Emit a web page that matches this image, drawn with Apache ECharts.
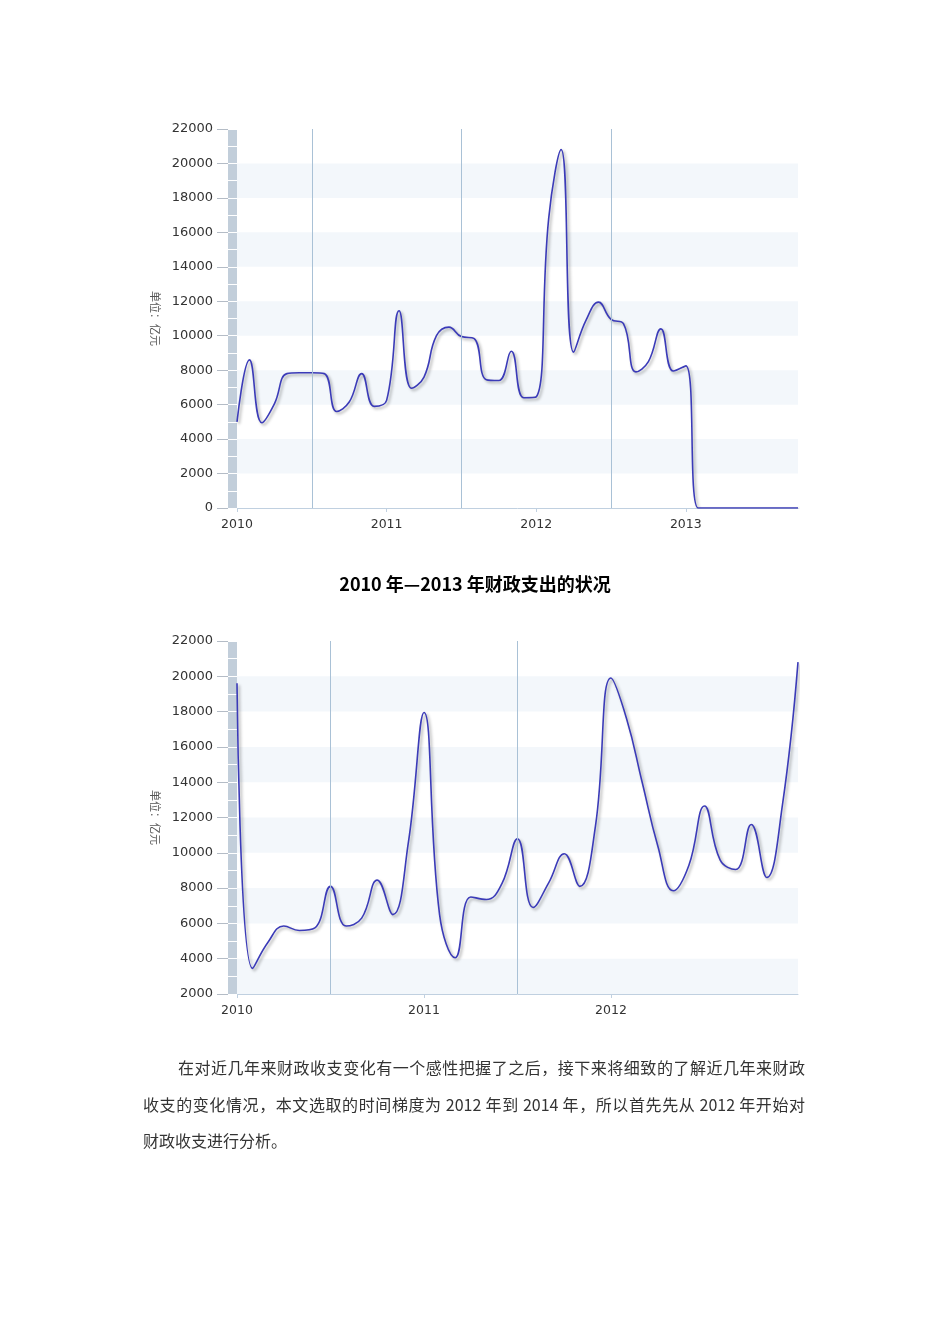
<!DOCTYPE html>
<html>
<head>
<meta charset="utf-8">
<script src="https://cdn.jsdelivr.net/npm/echarts@6/dist/echarts.min.js"></script>
<style>
html,body{margin:0;padding:0;background:#fff;}
#chart{position:absolute;left:0;top:0;width:950px;height:1344px;}
.para{position:absolute;left:143px;width:662px;top:1049px;font-family:'Noto Sans CJK SC',sans-serif;font-size:16px;color:#333;}
.ln{height:36.5px;line-height:36.5px;text-align:justify;text-align-last:justify;}
.ln.first{padding-left:35px;}
.ln.last{text-align-last:left;}
</style>
</head>
<body>
<div id="chart"></div>
<div class="para">
<div class="ln first">在对近几年来财政收支变化有一个感性把握了之后，接下来将细致的了解近几年来财政</div>
<div class="ln">收支的变化情况，本文选取的时间梯度为 2012 年到 2014 年，所以首先先从 2012 年开始对</div>
<div class="ln last">财政收支进行分析。</div>
</div>
<script>
// ---- chart 1 data (2010-01 .. 2013-10) ----
const months1 = ['2010-01','2010-02','2010-03','2010-04','2010-05','2010-06','2010-07','2010-08','2010-09','2010-10','2010-11','2010-12',
  '2011-01','2011-02','2011-03','2011-04','2011-05','2011-06','2011-07','2011-08','2011-09','2011-10','2011-11','2011-12',
  '2012-01','2012-02','2012-03','2012-04','2012-05','2012-06','2012-07','2012-08','2012-09','2012-10','2012-11','2012-12',
  '2013-01','2013-02','2013-03','2013-04','2013-05','2013-06','2013-07','2013-08','2013-09','2013-10'];
const values1 = [5000,8600,4950,6050,7800,7850,7850,7800,5600,6150,7800,5900,
  6250,11450,6950,7600,10000,10500,9950,9850,7450,7400,9100,6400,
  6450,16800,20800,9050,10900,11950,10950,10700,7900,8500,10400,7950,
  8250,0,0,0,0,0,0,0,0,0];
const vLines1 = ['2010-07','2011-07','2012-07'];

// ---- chart 2 data (2010-01 .. 2013-01) ----
const months2 = ['2010-01','2010-02','2010-03','2010-04','2010-05','2010-06','2010-07','2010-08','2010-09','2010-10','2010-11','2010-12',
  '2011-01','2011-02','2011-03','2011-04','2011-05','2011-06','2011-07','2011-08','2011-09','2011-10','2011-11','2011-12',
  '2012-01','2012-02','2012-03','2012-04','2012-05','2012-06','2012-07','2012-08','2012-09','2012-10','2012-11','2012-12',
  '2013-01'];
const values2 = [19600,3450,4950,5850,5600,5750,8100,5850,6300,8450,6500,10600,
  17950,6500,4050,7500,7350,8250,10800,6900,8300,9950,8100,11500,
  19900,17600,14000,10400,7850,9300,12650,9600,9050,11600,8600,12700,
  20800];
const vLines2 = ['2010-07','2011-07'];

const yRange1 = {min:0, max:22000, interval:2000};
const yRange2 = {min:2000, max:22000, interval:2000};
const yName = '单位：亿元';
const titleText = '2010 年—2013 年财政支出的状况';

const chart = echarts.init(document.getElementById('chart'), null, {renderer:'canvas'});
const LABEL_FONT = 'DejaVu Sans';

function yAxes(gridIndex, range, bandColors){
  return [
    { // main axis: labels, ticks, bands
      type:'value', gridIndex, min:range.min, max:range.max, interval:range.interval,
      position:'left', offset:9, z:0,
      name:yName, nameLocation:'middle', nameRotate:-90, nameGap:58,
      nameTextStyle:{color:'#555', fontSize:11, fontFamily:'Noto Sans CJK SC'},
      axisLine:{show:false},
      axisTick:{show:true, length:11, lineStyle:{color:'#b4bcc6', width:1}},
      axisLabel:{margin:15, color:'#333', fontSize:13, fontFamily:LABEL_FONT, formatter:(v)=>String(v)},
      splitLine:{show:false},
      splitArea:{show:true, areaStyle:{color:bandColors}}
    },
    { // white separators across the bar
      type:'value', gridIndex, min:range.min, max:range.max, interval:1000,
      position:'left', offset:9, z:2,
      axisLine:{show:false},
      axisTick:{show:true, inside:true, length:9, lineStyle:{color:'#ffffff', width:1}},
      axisLabel:{show:false}, splitLine:{show:false}, splitArea:{show:false}
    },
    { // the grey-blue bar
      type:'value', gridIndex, min:range.min, max:range.max, interval:range.interval,
      position:'left', offset:4.5, z:1,
      axisLine:{show:true, lineStyle:{color:'#c2ceda', width:9, cap:'butt'}},
      axisTick:{show:false}, axisLabel:{show:false}, splitLine:{show:false}, splitArea:{show:false}
    }
  ];
}

function xAxis(gridIndex, cats, lastIdxExcluded){
  const iv = (i) => i % 12 === 0 && i !== lastIdxExcluded;
  return {
    type:'category', gridIndex, data:cats, boundaryGap:false,
    axisLine:{show:true, lineStyle:{color:'#c0d0e0', width:1}},
    axisTick:{show:true, interval:iv, length:4, lineStyle:{color:'#c0d0e0'}},
    axisLabel:{interval:iv, margin:10, color:'#333', fontSize:12.5, fontFamily:LABEL_FONT,
      formatter:(v)=>v.slice(0,4)},
    splitLine:{show:false}
  };
}

function lineSeries(xi, yi, data, vlines){
  return {
    type:'line', xAxisIndex:xi, yAxisIndex:yi, data, smooth:0.45,
    symbol:'none', z:3,
    lineStyle:{color:'#3b3bb8', width:1.6, shadowColor:'rgba(0,0,0,0.35)', shadowBlur:3, shadowOffsetX:2, shadowOffsetY:2},
    markLine:{silent:true, symbol:'none', label:{show:false},
      lineStyle:{color:'#a9c1d6', type:'solid', width:1, shadowBlur:0},
      data:vlines.map(v=>({xAxis:v}))}
  };
}

const bandsA = ['rgba(255,255,255,0)','#f3f7fb'];
const bandsB = ['#f3f7fb','rgba(255,255,255,0)'];

chart.setOption({
  animation:false,
  title:{text:titleText, left:'center', top:570,
    textStyle:{fontSize:18, fontWeight:'bold', color:'#000', fontFamily:'Noto Sans CJK SC'}},
  grid:[
    {left:237, right:152, top:129, height:379},
    {left:237, right:152, top:641, height:353}
  ],
  xAxis:[xAxis(0, months1, -1), xAxis(1, months2, 36)],
  yAxis:[...yAxes(0, yRange1, bandsA), ...yAxes(1, yRange2, bandsB)],
  series:[lineSeries(0, 0, values1, vLines1), lineSeries(1, 3, values2, vLines2)]
});
</script>
</body>
</html>
